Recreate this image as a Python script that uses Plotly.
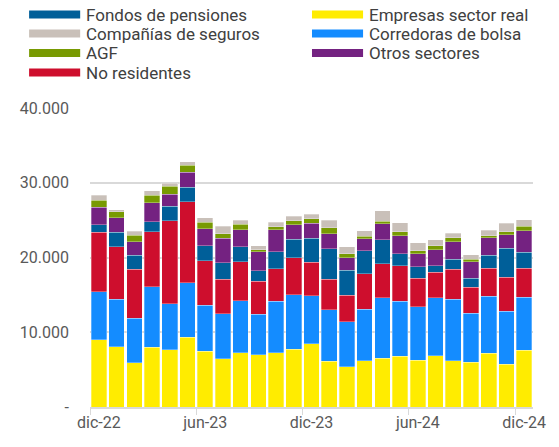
import plotly.graph_objects as go

# Meses (dic-22 a dic-24)
meses = ["dic-22", "ene-23", "feb-23", "mar-23", "abr-23", "may-23", "jun-23",
         "jul-23", "ago-23", "sep-23", "oct-23", "nov-23", "dic-23",
         "ene-24", "feb-24", "mar-24", "abr-24", "may-24", "jun-24",
         "jul-24", "ago-24", "sep-24", "oct-24", "nov-24", "dic-24"]

# Series (millones), de abajo hacia arriba en la pila
empresas = [8980, 8090, 5910, 8000, 7640, 9330, 7470, 6440, 7290, 6980, 7290, 7730, 8490,
            6090, 5380, 6220, 6490, 6760, 6270, 6890, 6220, 6000, 7200, 5690, 7600]
corredoras = [6440, 6350, 5960, 8090, 6140, 7290, 6170, 6050, 6930, 5420, 6890, 7290, 6400,
              6890, 6000, 6850, 8130, 7420, 7110, 7730, 8180, 6530, 7600, 7110, 7070]
no_residentes = [7960, 6980, 6570, 7330, 11150, 10850, 5920, 4580, 5200, 4440, 4310, 4980, 4490,
                 4090, 3550, 4750, 4540, 4710, 3860, 3420, 4000, 3510, 3730, 4580, 3910]
fondos = [1020, 1960, 1830, 1380, 1960, 1950, 2000, 2220, 2000, 1380, 2270, 2440, 3200,
          4130, 3340, 3070, 3240, 1640, 1520, 850, 1380, 1200, 1740, 3860, 2090]
otros = [2350, 1910, 1820, 2530, 1600, 2000, 2260, 3290, 2310, 2540, 2970, 1920, 2000,
         1960, 1730, 1600, 2090, 2360, 1770, 2130, 2350, 2180, 2350, 1830, 2890]
agf = [890, 800, 890, 1030, 1020, 940, 890, 620, 710, 310, 400, 530, 620,
       840, 490, 350, 350, 530, 400, 540, 540, 360, 270, 400, 620]
seguros = [670, 310, 530, 570, 450, 440, 620, 980, 540, 530, 580, 620, 580,
           980, 930, 760, 1430, 1200, 1030, 840, 570, 580, 750, 1110, 890]

COLORS = {
    'Empresas sector real': '#FFEC00',
    'Corredoras de bolsa': '#148CFF',
    'No residentes': '#CE0E2D',
    'Fondos de pensiones': '#005F99',
    'Otros sectores': '#742281',
    'AGF': '#789A02',
    'Compañías de seguros': '#C9C0B9',
}

FONT = "Roboto, sans-serif"

series = [
    ('Empresas sector real', empresas),
    ('Corredoras de bolsa', corredoras),
    ('No residentes', no_residentes),
    ('Fondos de pensiones', fondos),
    ('Otros sectores', otros),
    ('AGF', agf),
    ('Compañías de seguros', seguros),
]

fig = go.Figure()
for name, vals in series:
    fig.add_trace(go.Bar(
        x=meses, y=vals, name=name,
        marker_color=COLORS[name],
        marker_line=dict(color='rgba(255,255,255,0.6)', width=0.5),
        showlegend=False,
    ))

# page has an 8px body margin, so the figure is drawn from (8, 8)
OFF = 8
W, H = 559 - OFF, 447 - OFF
L, R, T, B = 82 - OFF, 26, 108 - OFF, 40
pw, ph = W - L - R, H - T - B

def px_x(px):
    # screen pixel -> paper x
    return (px - OFF - L) / pw

def px_y(py):
    # screen pixel -> paper y
    return (H - B - (py - OFF)) / ph

# manual legend (two columns, wide swatches)
legend_cols = [
    (20, ['Fondos de pensiones', 'Compañías de seguros', 'AGF', 'No residentes']),
    (308, ['Empresas sector real', 'Corredoras de bolsa', 'Otros sectores']),
]
row_y = [14.5, 33.5, 53, 72.5]
for x0, names in legend_cols:
    for i, name in enumerate(names):
        cy = row_y[i]
        fig.add_shape(type='rect', xref='paper', yref='paper',
                      x0=px_x(x0), x1=px_x(x0 + 52),
                      y0=px_y(cy + 4), y1=px_y(cy - 4),
                      fillcolor=COLORS[name], line_width=0)
        fig.add_annotation(text=name, xref='paper', yref='paper',
                           x=px_x(x0 + 57), y=px_y(cy),
                           xanchor='left', yanchor='middle', showarrow=False,
                           borderpad=0,
                           font=dict(family=FONT, size=17, color='#404040'))

fig.update_layout(
    barmode='stack',
    bargap=0.12,
    width=W, height=H,
    margin=dict(l=L, r=R, t=T, b=B),
    plot_bgcolor='white',
    paper_bgcolor='white',
    font=dict(family=FONT, size=16, color='#595959'),
)
fig.update_xaxes(
    type='category', dtick=6, tickson='boundaries',
    showline=True, linecolor='#D9D9D9', linewidth=1.5,
    ticks='outside', ticklen=6, tickcolor='#D9D9D9',
    showgrid=False, tickangle=0,
)
fig.update_yaxes(
    range=[0, 40000],
    tickvals=[0, 10000, 20000, 30000, 40000],
    ticktext=['-', '10.000', '20.000', '30.000', '40.000'],
    showgrid=True, gridcolor='#D9D9D9', gridwidth=1.5,
    zeroline=False, ticklabelstandoff=20,
)

fig.write_html("out.html")
